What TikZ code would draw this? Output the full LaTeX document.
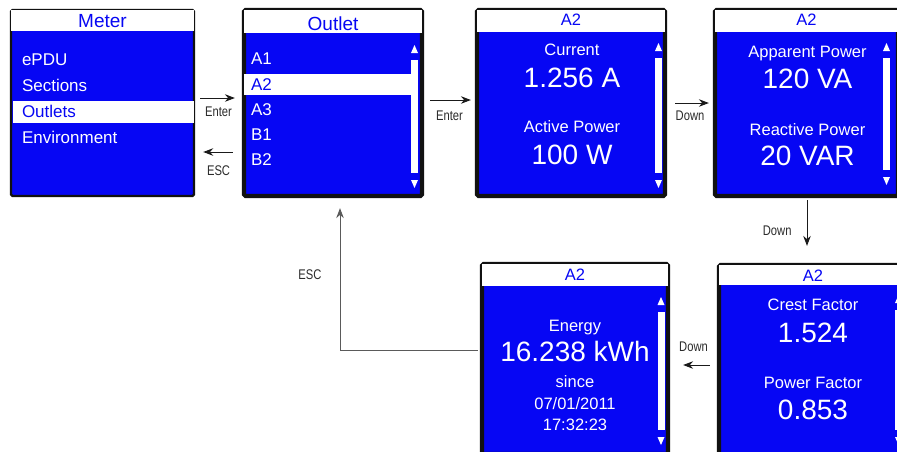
\documentclass[tikz,border=0pt]{standalone}
\usepackage{fontspec}
\setmainfont{Liberation Sans}
\newfontfamily\narrowfont[FakeStretch=0.8]{Liberation Sans}
\usepackage{tikz}
\usetikzlibrary{positioning, arrows.meta}
\definecolor{lcdBlue}{HTML}{0606F4}
\definecolor{lcdFrame}{HTML}{111111}
\definecolor{keyInk}{HTML}{1A1A1A}
\definecolor{escInk}{HTML}{5A5A5A}
\definecolor{labelInk}{HTML}{2B2B2B}

\begin{document}
\begin{tikzpicture}[x=1pt, y=-1pt,
  screen/.style={draw=lcdFrame, line width=4.2pt, rounded corners=1.5pt,
                 fill=lcdBlue, inner sep=0pt},
  scrTitle/.style={text=lcdBlue, font=\fontsize{19}{21}\selectfont, anchor=base, inner sep=0pt},
  scrTag/.style={text=lcdBlue, font=\fontsize{16.5}{18}\selectfont, anchor=base, inner sep=0pt},
  menuItem/.style={font=\fontsize{17}{19}\selectfont, anchor=base west, inner sep=0pt},
  qtyName/.style={text=white, font=\fontsize{16.5}{18}\selectfont, anchor=base, inner sep=0pt},
  qtyValue/.style={text=white, font=\fontsize{28}{30}\selectfont, anchor=base, inner sep=0pt},
  keyArrow/.style={-{Stealth[length=10pt, width=7.5pt]}, draw=keyInk, line width=1pt},
  escArrow/.style={-{Stealth[length=10pt, width=7.5pt]}, draw=escInk, line width=1pt},
  keyName/.style={text=labelInk, font=\narrowfont\fontsize{14}{16}\selectfont, inner sep=1pt}]

  \useasboundingbox (0,0) rectangle (897,451);
  \fill[white] (0,0) rectangle (897,451);
  \clip (0,0) rectangle (897,451);

  \node[screen, line width=2.4pt, minimum width=183pt, minimum height=186pt] (meter) at (102.5,103) {};
  \node[screen, minimum width=178pt, minimum height=186pt] (outlet)   at (333,103) {};
  \node[screen, minimum width=188pt, minimum height=186pt] (current)  at (571,103) {};
  \node[screen, minimum width=183pt, minimum height=186pt] (apparent) at (806.5,103) {};
  \node[screen, minimum width=181pt, minimum height=190pt] (crest)    at (809.5,360) {};
  \node[screen, minimum width=186pt, minimum height=190pt] (energy)   at (575,359) {};

  \fill[white] ([shift={(1.2pt,-1.2pt)}]meter.north west) rectangle ([shift={(-1.2pt,-22pt)}]meter.north east);
  \fill[white] ([shift={(2.1pt,-2.1pt)}]outlet.north west) rectangle ([shift={(-2.1pt,-25pt)}]outlet.north east);
  \fill[white] ([shift={(2.1pt,-2.1pt)}]current.north west) rectangle ([shift={(-2.1pt,-24pt)}]current.north east);
  \fill[white] ([shift={(2.1pt,-2.1pt)}]apparent.north west) rectangle ([shift={(-2.1pt,-24pt)}]apparent.north east);
  \fill[white] ([shift={(2.1pt,-2.1pt)}]crest.north west) rectangle ([shift={(-2.1pt,-22pt)}]crest.north east);
  \fill[white] ([shift={(2.1pt,-2.1pt)}]energy.north west) rectangle ([shift={(-2.1pt,-24pt)}]energy.north east);

  \fill[white] ([shift={(3pt,-92pt)}]meter.north west) rectangle ([shift={(-1.2pt,-114pt)}]meter.north east);
  \fill[white] ([shift={(2.1pt,-66pt)}]outlet.north west) rectangle ([shift={(-13pt,-87pt)}]outlet.north east);

  \foreach \sx/\st/\sb in {414.5/60/173, 658.5/58/173, 886.5/58/170, 661/312/430, 898.5/310/430} {
    \fill[white] (\sx-3.5,\st) rectangle (\sx+3.5,\sb);
    \fill[white] (\sx-3.5,\st-7) -- (\sx+3.5,\st-7) -- (\sx,\st-15) -- cycle;
    \fill[white] (\sx-3.5,\sb+7) -- (\sx+3.5,\sb+7) -- (\sx,\sb+15) -- cycle;
  }

  \node[scrTitle] (meterName)  at ([yshift=-18.3pt]meter.north) {Meter};
  \node[scrTitle] (outletName) at ([yshift=-22.3pt]outlet.north) {Outlet};
  \node[scrTag] (currentTag)  at ([yshift=-17.3pt]current.north) {A2};
  \node[scrTag] (apparentTag) at ([yshift=-17.3pt]apparent.north) {A2};
  \node[scrTag] (crestTag)    at ([xshift=3.5pt, yshift=-19pt]crest.north) {A2};
  \node[scrTag] (energyTag)   at ([yshift=-18.3pt]energy.north) {A2};

  \foreach \entry/\ink [count=\i] in {ePDU/white, Sections/white, Outlets/lcdBlue, Environment/white}
    \node[menuItem, text=\ink] (meterItem\i) at ([xshift=12pt, yshift={-(31+26*\i)*1pt}]meter.north west) {\entry};
  \foreach \entry/\ink [count=\i] in {A1/white, A2/lcdBlue, A3/white, B1/white, B2/white}
    \node[menuItem, text=\ink] (outletItem\i) at ([xshift=9pt, yshift={-(31.75+25.25*\i)*1pt}]outlet.north west) {\entry};

  \node[qtyName]  (currentLbl)  at ([xshift=1pt, yshift=-47.3pt]current.north) {Current};
  \node[qtyValue] (currentVal)  at ([xshift=1pt, yshift=-79.3pt]current.north) {1.256 A};
  \node[qtyName]  (activeLbl)   at ([xshift=1pt, yshift=-125pt]current.north) {Active Power};
  \node[qtyValue] (activeVal)   at ([xshift=1pt, yshift=-156.7pt]current.north) {100 W};

  \node[qtyName]  (apparentLbl) at ([xshift=1pt, yshift=-49.3pt]apparent.north) {Apparent Power};
  \node[qtyValue] (apparentVal) at ([xshift=1pt, yshift=-80.7pt]apparent.north) {120 VA};
  \node[qtyName]  (reactiveLbl) at ([xshift=1pt, yshift=-127.3pt]apparent.north) {Reactive Power};
  \node[qtyValue] (reactiveVal) at ([xshift=1pt, yshift=-157.7pt]apparent.north) {20 VAR};

  \node[qtyName]  (crestLbl)    at ([xshift=3.5pt, yshift=-47.7pt]crest.north) {Crest Factor};
  \node[qtyValue] (crestVal)    at ([xshift=3.5pt, yshift=-80pt]crest.north) {1.524};
  \node[qtyName]  (factorLbl)   at ([xshift=3.5pt, yshift=-125.7pt]crest.north) {Power Factor};
  \node[qtyValue] (factorVal)   at ([xshift=3.5pt, yshift=-156.7pt]crest.north) {0.853};

  \node[qtyName]  (energyLbl)   at ([yshift=-69.3pt]energy.north) {Energy};
  \node[qtyValue] (energyVal)   at ([yshift=-99.3pt]energy.north) {16.238 kWh};
  \node[qtyName]  (sinceLbl)    at ([yshift=-126pt]energy.north) {since};
  \node[qtyName]  (sinceDate)   at ([yshift=-147.7pt]energy.north) {07/01/2011};
  \node[qtyName]  (sinceTime)   at ([yshift=-168.7pt]energy.north) {17:32:23};

  \draw[keyArrow, shorten <=5pt, shorten >=7pt] ([yshift=5pt]meter.east) -- ([yshift=5pt]outlet.west)
    node[keyName, midway, below=7pt] (enterA) {Enter};
  \draw[keyArrow, shorten <=9pt, shorten >=8pt] ([yshift=-49pt]outlet.west) -- ([yshift=-49pt]meter.east)
    node[keyName, midway, below=12pt] (escA) {ESC};
  \draw[keyArrow, shorten <=6pt, shorten >=4pt] ([yshift=3pt]outlet.east) -- ([yshift=3pt]current.west)
    node[keyName, midway, below=9pt] (enterB) {Enter};
  \draw[keyArrow, shorten <=8pt, shorten >=4pt] (current.east) -- (apparent.west)
    node[keyName, midway, below=6pt] (downA) {Down};
  \draw[keyArrow, shorten <=2pt, shorten >=17pt] ([xshift=0.5pt]apparent.south) -- ([xshift=0.5pt]apparent.south |- crest.north)
    node[keyName, midway, left=14pt] (downB) {Down};
  \draw[keyArrow, shorten <=7pt, shorten >=13pt] ([yshift=-5pt]crest.west) -- ([yshift=-5pt]crest.west -| energy.east)
    node[keyName, midway, above=12pt] (downC) {Down};
  \draw[escArrow, shorten <=2pt, shorten >=10pt] ([yshift=8.5pt]energy.west) -| ([xshift=7pt]outlet.south)
    node[keyName, pos=0.75, left=17pt] (escB) {ESC};
\end{tikzpicture}
\end{document}
